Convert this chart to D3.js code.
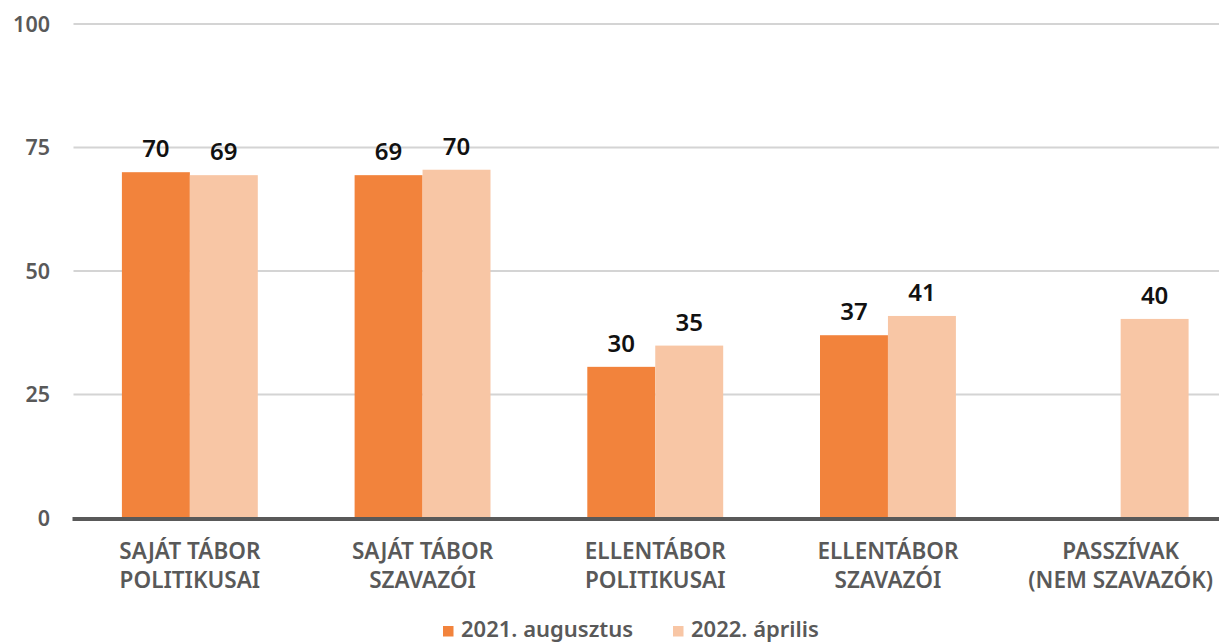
<!DOCTYPE html>
<html>
<head>
<meta charset="utf-8">
<script src="https://cdn.jsdelivr.net/npm/d3@7"></script>
<style>
  html, body { margin: 0; padding: 0; background: #fff; }
  svg { display: block; font-family: "Noto Sans", "Open Sans", sans-serif; }
</style>
</head>
<body>
<svg id="chart" width="1219" height="644"></svg>
<script>
const categories = [
  ["SAJÁT TÁBOR", "POLITIKUSAI"],
  ["SAJÁT TÁBOR", "SZAVAZÓI"],
  ["ELLENTÁBOR", "POLITIKUSAI"],
  ["ELLENTÁBOR", "SZAVAZÓI"],
  ["PASSZÍVAK", "(NEM SZAVAZÓK)"]
];
const seriesNames = ["2021. augusztus", "2022. április"];
const series2021 = [70.0, 69.4, 30.6, 37.0, null];
const series2022 = [69.4, 70.5, 34.9, 40.9, 40.3];
const labels2021 = ["70", "69", "30", "37", null];
const labels2022 = ["69", "70", "35", "41", "40"];
const yTicks = [0, 25, 50, 75, 100];
const colors = ["#F2833C", "#F8C6A5"];

const svg = d3.select("#chart");
const mLeft = 73.5, mRight = 1237, mTop = 24, mBottom = 518;

const x0 = d3.scaleBand().domain(d3.range(categories.length)).range([mLeft, mRight]).padding(0);
const x1 = d3.scaleBand().domain([0, 1]).range([x0.bandwidth() * 0.208, x0.bandwidth() * 0.792]).padding(0);
const y = d3.scaleLinear().domain([0, 100]).range([mBottom, mTop]);

// gridlines
svg.append("g").selectAll("line").data(yTicks.filter(d => d > 0)).join("line")
  .attr("x1", mLeft).attr("x2", 1219)
  .attr("y1", d => y(d)).attr("y2", d => y(d))
  .attr("stroke", "#d4d4d4").attr("stroke-width", 2);

// y tick labels
svg.append("g").selectAll("text").data(yTicks).join("text")
  .attr("x", 50).attr("y", d => y(d)).attr("dy", "0.36em")
  .attr("text-anchor", "end")
  .attr("font-size", 21.5).attr("font-weight", 600).attr("fill", "#595959")
  .text(d => d);

const allSeries = [series2021, series2022];
const allLabels = [labels2021, labels2022];

const groups = svg.append("g").selectAll("g").data(categories).join("g")
  .attr("transform", (d, i) => `translate(${x0(i)},0)`);

allSeries.forEach((s, si) => {
  groups.each(function(d, i) {
    const v = s[i];
    if (v == null) return;
    const g = d3.select(this);
    g.append("rect")
      .attr("x", x1(si)).attr("width", x1.bandwidth())
      .attr("y", y(v)).attr("height", y(0) - y(v))
      .attr("fill", colors[si]);
    g.append("text")
      .attr("x", x1(si) + x1.bandwidth() / 2)
      .attr("y", y(v) - 15)
      .attr("text-anchor", "middle")
      .attr("font-size", 24).attr("font-weight", 600).attr("fill", "#111")
      .text(allLabels[si][i]);
  });
});

// x axis line
svg.append("line")
  .attr("x1", mLeft - 1).attr("x2", 1219)
  .attr("y1", y(0) + 1).attr("y2", y(0) + 1)
  .attr("stroke", "#595959").attr("stroke-width", 4);

// category labels
groups.append("text")
  .attr("text-anchor", "middle")
  .attr("font-size", 22.5).attr("font-weight", 600).attr("fill", "#595959")
  .selectAll("tspan").data(d => d).join("tspan")
  .attr("x", x0.bandwidth() / 2)
  .attr("y", (d, i) => 559 + i * 29)
  .text(d => d);

// legend
const legendItems = [
  { name: seriesNames[0], color: colors[0], x: 443 },
  { name: seriesNames[1], color: colors[1], x: 673 }
];
const lg = svg.append("g").selectAll("g").data(legendItems).join("g")
  .attr("transform", d => `translate(${d.x},0)`);
lg.append("rect").attr("x", 0).attr("y", 626).attr("width", 10.5).attr("height", 10.5)
  .attr("fill", d => d.color);
lg.append("text").attr("x", 18).attr("y", 637)
  .attr("font-size", 22).attr("font-weight", 600).attr("fill", "#595959")
  .text(d => d.name);
</script>
</body>
</html>
